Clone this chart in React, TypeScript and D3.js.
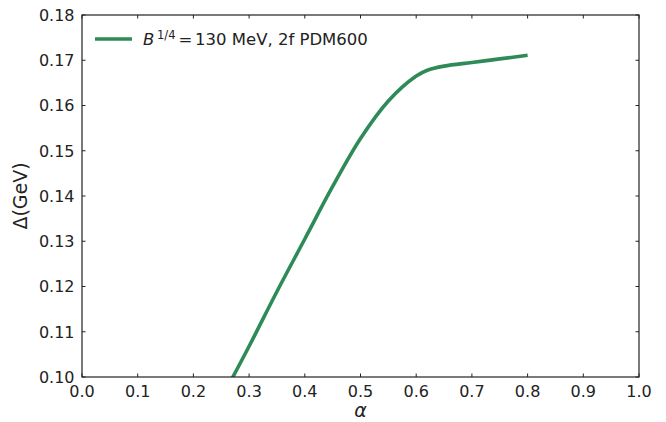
import React from "react";
import * as d3 from "d3";

const alphaVals = [0.26, 0.30, 0.35, 0.40, 0.45, 0.50, 0.55, 0.60, 0.62, 0.65, 0.70, 0.75, 0.80];
const deltaVals = [0.0975, 0.1068, 0.1189, 0.1305, 0.1421, 0.1527, 0.1610, 0.1665, 0.1678, 0.1687, 0.1695, 0.1703, 0.1711];
const xTicks = [0, 0.1, 0.2, 0.3, 0.4, 0.5, 0.6, 0.7, 0.8, 0.9, 1.0];
const yTicks = [0.10, 0.11, 0.12, 0.13, 0.14, 0.15, 0.16, 0.17, 0.18];

const W = 666, H = 422;
const L = 82, R = 639, T = 15, B = 377;
const FONT = "'DejaVu Sans', sans-serif";
const GREEN = "#2e8b57";

export default function App() {
  const x = d3.scaleLinear().domain([0, 1]).range([L, R]);
  const y = d3.scaleLinear().domain([0.10, 0.18]).range([B, T]);
  const pts = alphaVals.map((a, i) => [a, deltaVals[i]] as [number, number]);
  const line = d3.line<[number, number]>().x(d => x(d[0])).y(d => y(d[1])).curve(d3.curveCatmullRom.alpha(0.5));
  const tl = 3.5;
  return (
    <svg width={W} height={H} style={{ position: "absolute", left: 0, top: 0, background: "#fff" }} fontFamily={FONT}>
      <defs>
        <clipPath id="plotclip"><rect x={L} y={T} width={R - L} height={B - T} /></clipPath>
      </defs>
      <path d={line(pts) || ""} fill="none" stroke={GREEN} strokeWidth={3.6} clipPath="url(#plotclip)" />
      {xTicks.map(t => (
        <g key={"x" + t}>
          <line x1={x(t)} x2={x(t)} y1={B} y2={B - tl} stroke="#222" strokeWidth={1} />
          <line x1={x(t)} x2={x(t)} y1={T} y2={T + tl} stroke="#222" strokeWidth={1} />
          <text x={x(t)} y={397} textAnchor="middle" fontSize={16} fill="#222">{t.toFixed(1)}</text>
        </g>
      ))}
      {yTicks.map(t => (
        <g key={"y" + t}>
          <line x1={L} x2={L + tl} y1={y(t)} y2={y(t)} stroke="#222" strokeWidth={1} />
          <line x1={R} x2={R - tl} y1={y(t)} y2={y(t)} stroke="#222" strokeWidth={1} />
          <text x={74.5} y={y(t)} dy="0.36em" textAnchor="end" fontSize={16} fill="#222">{t.toFixed(2)}</text>
        </g>
      ))}
      <rect x={L} y={T} width={R - L} height={B - T} fill="none" stroke="#222" strokeWidth={1.2} />
      <text x={(L + R) / 2} y={417} textAnchor="middle" fontSize={19} fontStyle="italic" fill="#222">α</text>
      <text transform={`translate(27,${(T + B) / 2}) rotate(-90)`} textAnchor="middle" fontSize={19} fill="#222">Δ(GeV)</text>
      <line x1={95} x2={132} y1={39} y2={39} stroke={GREEN} strokeWidth={3.6} />
      <text y={45} fontSize={16.5} fill="#222">
        <tspan x={143} fontStyle="italic">B</tspan>
        <tspan x={157} fontSize={11.5} dy={-6}>1/4</tspan>
        <tspan x={178.5} dy={6}>=</tspan>
        <tspan x={195}>130 MeV, 2f PDM600</tspan>
      </text>
    </svg>
  );
}
